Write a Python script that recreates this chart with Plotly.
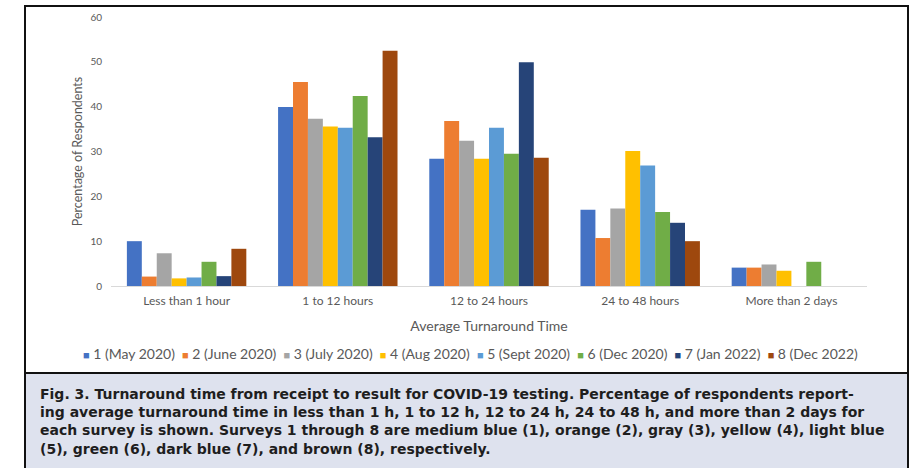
import plotly.graph_objects as go

categories = ["Less than 1 hour", "1 to 12 hours", "12 to 24 hours", "24 to 48 hours", "More than 2 days"]
series_names = ["1 (May 2020)", "2 (June 2020)", "3 (July 2020)", "4 (Aug 2020)",
                "5 (Sept 2020)", "6 (Dec 2020)", "7 (Jan 2022)", "8 (Dec 2022)"]
s1 = [10.0, 39.9, 28.4, 17.0, 4.1]
s2 = [2.1, 45.5, 36.8, 10.7, 4.1]
s3 = [7.3, 37.3, 32.4, 17.3, 4.8]
s4 = [1.7, 35.6, 28.4, 30.1, 3.4]
s5 = [1.9, 35.3, 35.3, 26.9, None]
s6 = [5.4, 42.4, 29.5, 16.5, 5.4]
s7 = [2.2, 33.2, 49.9, 14.1, None]
s8 = [8.3, 52.5, 28.6, 10.0, None]
series_values = [s1, s2, s3, s4, s5, s6, s7, s8]
colors = ["#4472C4", "#ED7D31", "#A5A5A5", "#FFC000", "#5B9BD5", "#70AD47", "#264478", "#9E480E"]
y_ticks = [0, 10, 20, 30, 40, 50, 60]

caption_lines = [
    "Fig. 3. Turnaround time from receipt to result for COVID-19 testing. Percentage of respondents report-",
    "ing average turnaround time in less than 1 h, 1 to 12 h, 12 to 24 h, 24 to 48 h, and more than 2 days for",
    "each survey is shown. Surveys 1 through 8 are medium blue (1), orange (2), gray (3), yellow (4), light blue",
    "(5), green (6), dark blue (7), and brown (8), respectively.",
]

W, H = 911, 468
L, R, T, B = 111, 44, 17, 182
PW, PH = W - L - R, H - T - B

def px(x):
    return (x - L) / PW

def py(y):
    return (H - B - y) / PH

fig = go.Figure()
for name, vals, col in zip(series_names, series_values, colors):
    fig.add_trace(go.Bar(x=categories, y=vals, name=name, marker_color=col,
                         marker_line_width=0, showlegend=False))

chart_font = "Lato, Carlito, 'Open Sans', sans-serif"
gray = "#595959"

fig.update_layout(
    width=W, height=H,
    margin=dict(l=L, r=R, t=T, b=B, autoexpand=False),
    paper_bgcolor="white", plot_bgcolor="white",
    barmode="group", bargap=0.21, bargroupgap=0,
    font=dict(family=chart_font, color=gray, size=11),
    xaxis=dict(showline=True, linecolor="#D9D9D9", linewidth=1, ticks="",
               tickfont=dict(size=12, color=gray), showgrid=False, ticklabelstandoff=4,
               title=dict(text="Average Turnaround Time", font=dict(size=14, color=gray), standoff=13)),
    yaxis=dict(range=[0, 60], tickvals=y_ticks, showgrid=False, zeroline=False, showline=False,
               tickfont=dict(size=10, color=gray), ticklabelstandoff=8,
               title=dict(text="Percentage of Respondents", font=dict(size=12.5, color=gray), standoff=5)),
)

# outer frames
fig.add_shape(type="rect", xref="paper", yref="paper", x0=px(25), x1=px(908), y0=py(373), y1=py(6),
              line=dict(color="#111111", width=2), fillcolor="rgba(0,0,0,0)", layer="below")
fig.add_shape(type="rect", xref="paper", yref="paper", x0=px(25), x1=px(908), y0=py(472), y1=py(373),
              line=dict(color="#111111", width=2), fillcolor="#DEE2EE", layer="below")

# legend row
legend_text = "  ".join(
    f"<span style='color:{c};font-size:11px'>■</span> {n}" for n, c in zip(series_names, colors)
)
fig.add_annotation(xref="paper", yref="paper", x=px(470), y=py(353), text=legend_text,
                   showarrow=False, xanchor="center", yanchor="middle",
                   font=dict(family=chart_font, size=14, color=gray))

# caption (single multi-line text)
fig.add_annotation(xref="paper", yref="paper", x=px(38), y=py(421), text="<b>" + "<br>".join(caption_lines) + "</b>",
                   showarrow=False, xanchor="left", yanchor="middle", align="left",
                   font=dict(family="'DejaVu Sans', Verdana, sans-serif", size=14, color="#1E1E1E"))

fig.write_html("out.html", config={"displayModeBar": False},
               post_script="document.body.style.margin='0';document.body.style.overflow='hidden';")
